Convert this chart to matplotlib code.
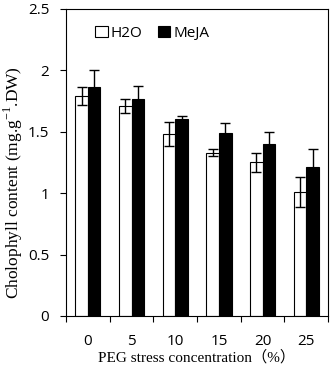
import numpy as np
import matplotlib.pyplot as plt
from matplotlib.ticker import FixedLocator

# PEG stress concentration (%)
conc = ['0', '5', '10', '15', '20', '25']
h2o = [1.79, 1.71, 1.48, 1.33, 1.25, 1.01]
h2o_err = [0.07, 0.06, 0.10, 0.03, 0.08, 0.12]
meja = [1.86, 1.77, 1.60, 1.49, 1.40, 1.21]
meja_err = [0.14, 0.10, 0.03, 0.08, 0.10, 0.15]

sans = ['Open Sans', 'DejaVu Sans']
serif = ['Liberation Serif', 'Noto Sans CJK SC']

fig = plt.figure(figsize=(3.3, 3.7), dpi=100)
ax = fig.add_axes([0.2, 0.146, 0.794, 0.83])

x = np.arange(len(conc))
w = 0.29
ekw = dict(elinewidth=1, capthick=1, ecolor='black')
ax.bar(x - w / 2, h2o, w, yerr=h2o_err, capsize=3.6, color='white',
       edgecolor='black', linewidth=0.8, error_kw=ekw, label='H2O')
ax.bar(x + w / 2, meja, w, yerr=meja_err, capsize=3.6, color='black',
       edgecolor='black', linewidth=0.8, error_kw=ekw, label='MeJA')

ax.set_xlim(-0.5, len(conc) - 0.5)
ax.set_ylim(0, 2.5)
ax.set_yticks([0, 0.5, 1, 1.5, 2, 2.5])
ax.set_yticklabels(['0', '0.5', '1', '1.5', '2', '2.5'], family=sans, fontsize=11)
ax.set_xticks(x)
ax.set_xticklabels(conc, family=sans, fontsize=11)
ax.xaxis.set_minor_locator(FixedLocator(np.arange(len(conc) + 1) - 0.5))
ax.tick_params(axis='x', which='major', length=0, pad=13)
ax.tick_params(axis='x', which='minor', length=4, width=0.8, direction='out')
ax.tick_params(axis='y', length=4, width=0.8, direction='out', pad=8)
for s in ax.spines.values():
    s.set_linewidth(0.8)

ax.set_xlabel('PEG stress concentration（%）', family=serif, fontsize=11, labelpad=1)
ax.set_ylabel('Cholophyll content (mg.g$^{\\mathregular{-1}}$.DW)', family=serif, fontsize=12.5)
ax.yaxis.set_label_coords(-0.155, 0.436)

ax.legend(loc='upper left', bbox_to_anchor=(0.06, 0.99), ncol=2, frameon=False,
          prop={'family': sans, 'size': 11}, handlelength=0.8, handleheight=0.8,
          handletextpad=0.2, columnspacing=1.0)

fig.savefig('out.png', dpi=100)
